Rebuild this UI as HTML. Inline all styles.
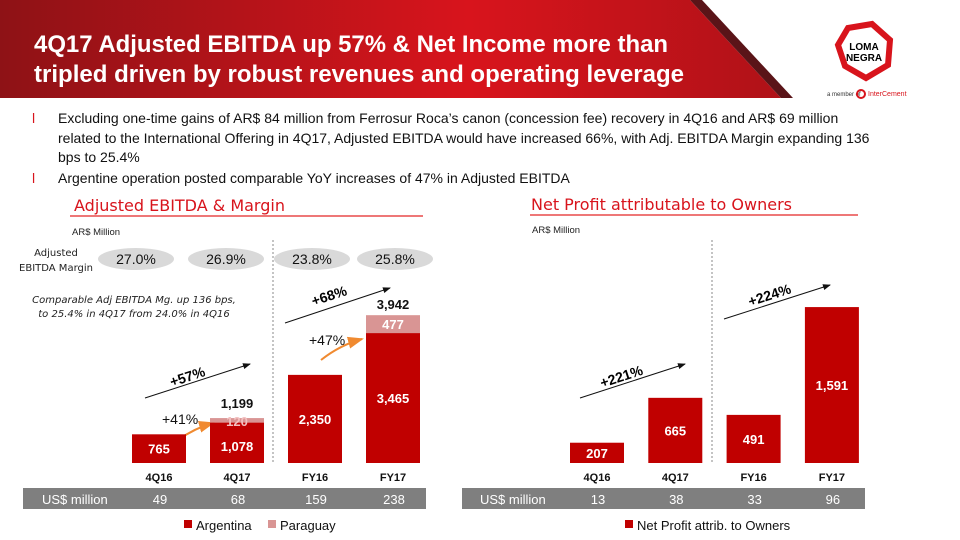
<!DOCTYPE html>
<html><head><meta charset="utf-8"><style>
body{margin:0;width:960px;height:540px;overflow:hidden;background:#fff;font-family:"Liberation Sans",sans-serif;position:relative}
.abs{position:absolute}
</style></head><body>
<svg class="abs" style="left:0;top:0" width="960" height="540">
<defs><linearGradient id="hg" x1="0" x2="1" y1="0" y2="0"><stop offset="0" stop-color="#8e1216"/><stop offset="0.6" stop-color="#d8141c"/><stop offset="1" stop-color="#b01218"/></linearGradient></defs>
<polygon points="0,0 690,0 781,98 0,98" fill="url(#hg)"/>
<polygon points="690,0 702,0 793,98 781,98" fill="#5a1418"/>
<text x="34" y="52" fill="#fff" font-size="24" font-weight="bold" textLength="634" lengthAdjust="spacingAndGlyphs">4Q17 Adjusted EBITDA up 57% &amp; Net Income more than</text>
<text x="34" y="82" fill="#fff" font-size="24" font-weight="bold" textLength="650" lengthAdjust="spacingAndGlyphs">tripled driven by robust revenues and operating leverage</text>
<g>
<polygon points="848,28 872,24 890,40 888,65 866,78 845,66 838,45" fill="#fff" stroke="#d8141c" stroke-width="6"/>
<text x="864" y="50" text-anchor="middle" font-size="10" font-weight="bold">LOMA</text>
<text x="864" y="61" text-anchor="middle" font-size="10" font-weight="bold">NEGRA</text>
<text x="827" y="96" font-size="6" fill="#333">a member of</text>
<circle cx="861" cy="94" r="4" fill="none" stroke="#d8141c" stroke-width="2"/>
<text x="868" y="96" font-size="7" fill="#d8141c">InterCement</text>
</g>
<g font-size="14" fill="#111">
<text x="32" y="123" fill="#d8141c">l</text>
<text x="58" y="123">Excluding one-time gains of AR$ 84 million from Ferrosur Roca’s canon (concession fee) recovery in 4Q16 and AR$ 69 million</text>
<text x="58" y="143">related to the International Offering in 4Q17, Adjusted EBITDA would have increased 66%, with Adj. EBITDA Margin expanding 136</text>
<text x="58" y="162">bps to 25.4%</text>
<text x="32" y="183" fill="#d8141c">l</text>
<text x="58" y="183">Argentine operation posted comparable YoY increases of 47% in Adjusted EBITDA</text>
</g>
<text x="74" y="211" font-size="16" fill="#d8141c" font-family="DejaVu Sans">Adjusted EBITDA &amp; Margin</text>
<line x1="70" y1="216" x2="423" y2="216" stroke="#e84a4a" stroke-width="1.5"/>
<text x="531" y="210" font-size="16" fill="#d8141c" font-family="DejaVu Sans">Net Profit attributable to Owners</text>
<line x1="530" y1="215" x2="858" y2="215" stroke="#e84a4a" stroke-width="1.5"/>
<text x="72" y="235" font-size="9.5" fill="#222">AR$ Million</text>
<text x="532" y="233" font-size="9.5" fill="#222">AR$ Million</text>
<text x="56" y="256" font-size="10" text-anchor="middle" font-family="DejaVu Sans" fill="#222">Adjusted</text>
<text x="56" y="271" font-size="10" text-anchor="middle" font-family="DejaVu Sans" fill="#222">EBITDA Margin</text>
<g font-size="10" font-style="italic" font-family="DejaVu Sans" fill="#222" text-anchor="middle">
<text x="134" y="303">Comparable Adj EBITDA Mg. up 136 bps,</text>
<text x="134" y="317">to 25.4% in 4Q17 from 24.0% in 4Q16</text>
</g>
<line x1="273" y1="240" x2="273" y2="463" stroke="#888" stroke-dasharray="2,2"/>
<line x1="712" y1="240" x2="712" y2="463" stroke="#888" stroke-dasharray="2,2"/>
<rect x="23" y="488" width="403" height="21" fill="#7f7f7f"/>
<text x="42" y="504" font-size="13" fill="#fff">US$ million</text>
<rect x="462" y="488" width="403" height="21" fill="#7f7f7f"/>
<text x="480" y="504" font-size="13" fill="#fff">US$ million</text>
<g font-size="13" fill="#111">
<rect x="184" y="520" width="8" height="8" fill="#c00000"/><text x="196" y="530">Argentina</text>
<rect x="268" y="520" width="8" height="8" fill="#d99594"/><text x="280" y="530">Paraguay</text>
<rect x="625" y="520" width="8" height="8" fill="#c00000"/><text x="637" y="530">Net Profit attrib. to Owners</text>
</g>
<defs><marker id="ar" markerWidth="8" markerHeight="8" refX="7" refY="4" orient="auto"><path d="M0,1 L8,4 L0,7z" fill="#111"/></marker>
<marker id="ao" markerWidth="8" markerHeight="8" refX="7" refY="4" orient="auto"><path d="M0,1 L8,4 L0,7z" fill="#f08a30"/></marker></defs>
<line x1="145" y1="398" x2="250" y2="364" stroke="#111" marker-end="url(#ar)"/>
<text x="170" y="384" font-size="14" font-weight="bold" transform="rotate(-18 180 380)">+57%</text>
<line x1="285" y1="323" x2="390" y2="288" stroke="#111" marker-end="url(#ar)"/>
<text x="312" y="303" font-size="14" font-weight="bold" transform="rotate(-18 322 300)">+68%</text>
<line x1="580" y1="398" x2="685" y2="364" stroke="#111" marker-end="url(#ar)"/>
<text x="600" y="385" font-size="14" font-weight="bold" transform="rotate(-18 610 380)">+221%</text>
<line x1="724" y1="319" x2="830" y2="285" stroke="#111" marker-end="url(#ar)"/>
<text x="748" y="303" font-size="14" font-weight="bold" transform="rotate(-18 760 298)">+224%</text>
<path d="M178,440 Q195,428 213,423" fill="none" stroke="#f08a30" stroke-width="2" marker-end="url(#ao)"/>
<text x="162" y="424" font-size="14" fill="#111">+41%</text>
<path d="M321,360 Q340,345 362,339" fill="none" stroke="#f08a30" stroke-width="2" marker-end="url(#ao)"/>
<text x="309" y="345" font-size="14" fill="#111">+47%</text>
<g id="left"></g><g id="right"></g>
</svg>
<script>
const cats=["4Q16","4Q17","FY16","FY17"];
const argentina=[765,1078,2350,3465];
const paraguay=[0,120,0,477];
const totals=["","1,199","","3,942"];
const margins=["27.0%","26.9%","23.8%","25.8%"];
const usdLeft=[49,68,159,238];
const netProfit=[207,665,491,1591];
const usdRight=[13,38,33,96];
const NS="http://www.w3.org/2000/svg";
const base=463;
function yL(v){return v*0.0375;}
function yR(v){return v*0.098;}
const xL=i=>132+i*78, xR=i=>570+i*78.3, bw=54;
function mk(tag,attrs,parent,txt){const e=document.createElementNS(NS,tag);for(const k in attrs)e.setAttribute(k,attrs[k]);if(txt!==undefined)e.textContent=txt;parent.appendChild(e);return e;}
const fmt=v=>v.toLocaleString("en-US");
const L=document.getElementById("left"),R=document.getElementById("right");
cats.forEach((c,i)=>{
 const x=xL(i),ha=yL(argentina[i]),hp=yL(paraguay[i]);
 const b=mk("rect",{x:x,y:base-ha,width:bw,height:ha,fill:"#c00000"},L);
 
 
 const small=hp>0&&hp<12;
 mk("text",{x:x+bw/2,y:base-ha/2+(small?8:5),"text-anchor":"middle","font-size":13,"font-weight":"bold",fill:"#fff"},L,fmt(argentina[i]));
 if(paraguay[i]>0){
  const p=mk("rect",{x:x,y:base-ha-hp,width:bw,height:hp,fill:"#d99594"},L);
  
  
  mk("text",{x:x+bw/2,y:small?base-ha-hp+8:base-ha-hp/2+5,"text-anchor":"middle","font-size":13,"font-weight":"bold",fill:small?"#f2c0c0":"#fff"},L,fmt(paraguay[i]));
 }
 if(totals[i])mk("text",{x:x+bw/2,y:base-ha-hp-(small?10:6),"text-anchor":"middle","font-size":13,"font-weight":"bold",fill:"#111"},L,totals[i]);
 mk("text",{x:x+bw/2,y:481,"text-anchor":"middle","font-size":11,"font-weight":"bold",fill:"#111"},L,c);
 mk("text",{x:x+bw/2+1,y:504,"text-anchor":"middle","font-size":13,fill:"#fff"},L,usdLeft[i]);
 const cx=[136,226,312,395][i];
 const el=mk("ellipse",{cx:cx,cy:259,rx:38,ry:11,fill:"#d9d9d9"},L);
 
 
 mk("text",{x:cx,y:264,"text-anchor":"middle","font-size":14,fill:"#111"},L,margins[i]);
 const xr=xR(i),h=yR(netProfit[i]);
 const r=mk("rect",{x:xr,y:base-h,width:bw,height:h,fill:"#c00000"},R);
 
 
 mk("text",{x:xr+bw/2,y:base-h/2+5,"text-anchor":"middle","font-size":13,"font-weight":"bold",fill:"#fff"},R,fmt(netProfit[i]));
 mk("text",{x:xr+bw/2,y:481,"text-anchor":"middle","font-size":11,"font-weight":"bold",fill:"#111"},R,c);
 mk("text",{x:xr+bw/2+1,y:504,"text-anchor":"middle","font-size":13,fill:"#fff"},R,usdRight[i]);
});
</script>
</body></html>
